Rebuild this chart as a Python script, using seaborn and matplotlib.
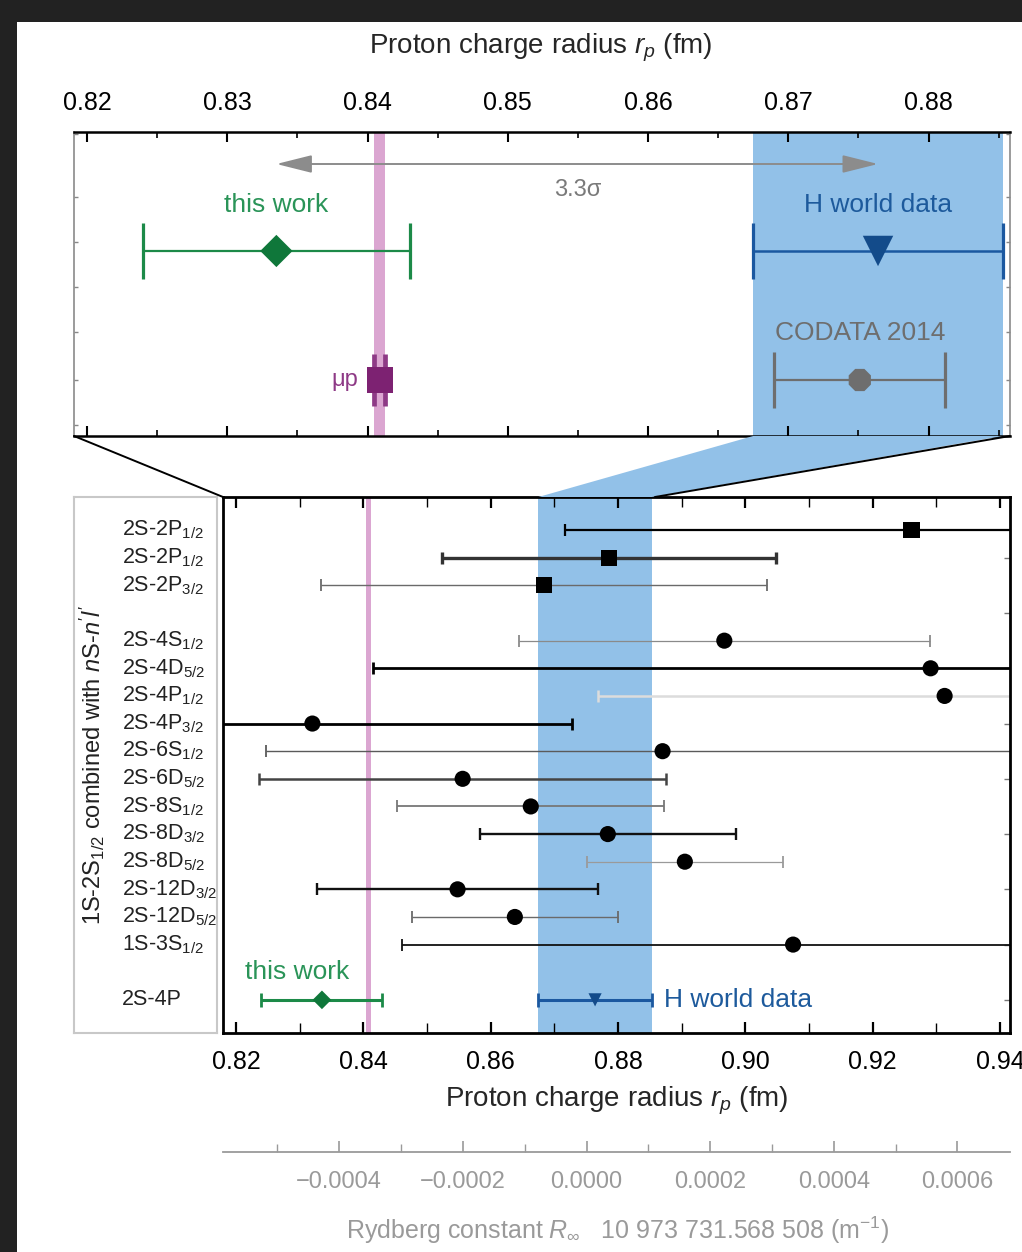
import numpy as np
import pandas as pd
import matplotlib
matplotlib.use("Agg")
import matplotlib.pyplot as plt
import seaborn as sns
from matplotlib.patches import Rectangle, Polygon, ConnectionPatch
from matplotlib.ticker import MultipleLocator, FixedLocator, FuncFormatter

# ---------------- data ----------------
row_labels = ["2S-2P$_{1/2}$", "2S-2P$_{1/2}$", "2S-2P$_{3/2}$",
              "2S-4S$_{1/2}$", "2S-4D$_{5/2}$", "2S-4P$_{1/2}$", "2S-4P$_{3/2}$",
              "2S-6S$_{1/2}$", "2S-6D$_{5/2}$", "2S-8S$_{1/2}$", "2S-8D$_{3/2}$",
              "2S-8D$_{5/2}$", "2S-12D$_{3/2}$", "2S-12D$_{5/2}$", "1S-3S$_{1/2}$"]
row_groups = [0, 0, 0, 1, 1, 1, 1, 1, 1, 1, 1, 1, 1, 1, 1]
row_values = [0.9261, 0.8786, 0.8684, 0.8967, 0.9291, 0.9313, 0.8320,
              0.8870, 0.8556, 0.8663, 0.8784, 0.8905, 0.8548, 0.8638, 0.9075]
row_errors = [0.0545, 0.0262, 0.0350, 0.0323, 0.0876, 0.0544, 0.0408,
              0.0623, 0.0320, 0.0210, 0.0201, 0.0154, 0.0220, 0.0162, 0.0614]
row_markers = ["s", "s", "s", "o", "o", "o", "o", "o", "o", "o", "o", "o", "o", "o", "o"]

this_work_label = "2S-4P"
this_work, this_work_err = 0.8335, 0.0095
h_world, h_world_err = 0.8764, 0.0089
codata, codata_err = 0.8751, 0.0061
muonic, muonic_err = 0.84087, 0.00039
sigma_text = "3.3\u03c3"

top_ticks = [0.82, 0.83, 0.84, 0.85, 0.86, 0.87, 0.88]
bot_ticks = [0.82, 0.84, 0.86, 0.88, 0.90, 0.92, 0.94]
ryd_ticks = [-0.0004, -0.0002, 0.0000, 0.0002, 0.0004, 0.0006]

# ---------------- styles ----------------
row_colors = ["#000000", "#333333", "#6a6a6a", "#8a8a8a", "#000000", "#dcdcdc", "#000000",
              "#5a5a5a", "#444444", "#777777", "#111111", "#9a9a9a", "#111111", "#6a6a6a", "#111111"]
row_lws = [1.6, 2.4, 1.0, 0.9, 2.0, 1.8, 2.0, 1.0, 1.8, 1.3, 1.7, 0.9, 1.7, 1.0, 1.3]

GREEN_L, GREEN_M, GREEN_T = "#1c8a48", "#0f773a", "#2a9458"
BLUE_L, BLUE_M, BLUE_T = "#1b58a0", "#134b8a", "#1d5a9c"
GREY_C = "#6e6e6e"
PURPLE = "#7d2272"
BAND_BLUE = "#92c1e8"
PINK = "#dba6d1"

sns.set_theme(style="ticks")
plt.rcParams["font.family"] = ["Liberation Sans", "DejaVu Sans"]
plt.rcParams["mathtext.fontset"] = "custom"
plt.rcParams["mathtext.rm"] = "Liberation Sans"
plt.rcParams["mathtext.it"] = "Liberation Sans:italic"
plt.rcParams["mathtext.bf"] = "Liberation Sans:bold"

W, H = 1022, 1252
def fx(px): return px / W
def fy(py): return 1 - py / H

fig = plt.figure(figsize=(W / 100, H / 100), dpi=100)
fig.patch.set_facecolor("#222222")
fig.patches.append(Rectangle((fx(17), 0), 1 - fx(17), fy(22), transform=fig.transFigure,
                             facecolor="white", edgecolor="none", zorder=-10))

ax_top = fig.add_axes([fx(74), fy(436), fx(1010) - fx(74), fy(132) - fy(436)])
ax_bot = fig.add_axes([fx(223), fy(1033), fx(1010) - fx(223), fy(497) - fy(1033)])
ax_lab = fig.add_axes([fx(74), fy(1033), fx(217) - fx(74), fy(497) - fy(1033)])
ax_ryd = fig.add_axes([fx(223), fy(1152), fx(1010) - fx(223), 0.0004])

TOP_XLIM = (0.81907, 0.88581)
BOT_XLIM = (0.81796, 0.94157)

# ---------------- top panel ----------------
ax = ax_top
ax.set_xlim(*TOP_XLIM)
ax.set_ylim(1.434, -0.922)
ax.axvspan(h_world - h_world_err, h_world + h_world_err, color=BAND_BLUE, lw=0, zorder=0)
ax.axvspan(muonic - muonic_err, muonic + muonic_err, color=PINK, lw=0, zorder=0.5)

top_df = pd.DataFrame({
    "name": ["this work", "H world data", "mu p", "CODATA 2014"],
    "r": [this_work, h_world, muonic, codata],
    "err": [this_work_err, h_world_err, muonic_err, codata_err],
    "y": [0, 0, 1, 1],
})
top_line = {"this work": GREEN_L, "H world data": BLUE_L, "mu p": "#8e3a86", "CODATA 2014": GREY_C}
top_mark = {"this work": GREEN_M, "H world data": BLUE_M, "mu p": PURPLE, "CODATA 2014": GREY_C}
top_shape = {"this work": "D", "H world data": "v", "mu p": "s", "CODATA 2014": "8"}
top_size = {"this work": 270, "H world data": 480, "mu p": 360, "CODATA 2014": 300}
top_lw = {"this work": 1.6, "H world data": 1.8, "mu p": 3.0, "CODATA 2014": 1.6}
for _, r in top_df.iterrows():
    ax.errorbar(r["r"], r["y"], xerr=r["err"], fmt="none", ecolor=top_line[r["name"]],
                elinewidth=top_lw[r["name"]], capsize=20 if r["name"] != "mu p" else 19,
                capthick=2.3 if r["name"] != "mu p" else 3.4, zorder=2)
sns.scatterplot(data=top_df, x="r", y="y", hue="name", style="name", size="name",
                palette=top_mark, markers=top_shape, sizes=top_size, legend=False,
                linewidth=0, ax=ax, zorder=3)
ax.set_xlabel("")
ax.set_ylabel("")

ax.annotate("", xy=(this_work, -0.674), xytext=(h_world, -0.674),
            arrowprops=dict(arrowstyle="<|-|>,head_length=1.0,head_width=0.25", color="#8c8c8c",
                            lw=1.4, mutation_scale=22, shrinkA=0, shrinkB=0), zorder=2)
ax.text(0.855, -0.473, sigma_text, color="#7a7a7a", fontsize=17, ha="center", va="center")
ax.text(this_work, -0.357, "this work", color=GREEN_T, fontsize=19, ha="center", va="center")
ax.text(h_world, -0.357, "H world data", color=BLUE_T, fontsize=19, ha="center", va="center")
ax.text(codata, 0.636, "CODATA 2014", color=GREY_C, fontsize=19, ha="center", va="center")
ax.text(0.8393, 1.0, "\u03bcp", color="#8e3a86", fontsize=17, ha="right", va="center")

ax.xaxis.set_major_locator(FixedLocator(top_ticks))
ax.xaxis.set_minor_locator(MultipleLocator(0.005))
ax.xaxis.set_major_formatter(FuncFormatter(lambda v, p: f"{v:.2f}"))
ax.tick_params(axis="x", which="both", top=True, bottom=True, labeltop=True, labelbottom=False,
               direction="in", labelsize=18, pad=12, colors="black")
ax.tick_params(axis="x", which="major", length=7, width=1.5)
ax.tick_params(axis="x", which="minor", length=4, width=1.2)
ax.yaxis.set_major_locator(FixedLocator([]))
ax.yaxis.set_minor_locator(FixedLocator([-0.91, -0.42, -0.07, 0.28, 0.63, 1.0, 1.35]))
ax.tick_params(axis="y", which="minor", left=True, right=True, direction="in", length=3,
               width=1, color="#888888")
for s in ["top", "bottom"]:
    ax.spines[s].set_color("black"); ax.spines[s].set_linewidth(1.8)
for s in ["left", "right"]:
    ax.spines[s].set_color("#8a8a8a"); ax.spines[s].set_linewidth(1.2)
fig.text(fx(541), fy(48), "Proton charge radius $r_p$ (fm)", fontsize=20, ha="center", va="center")

# ---------------- bottom panel ----------------
ax = ax_bot
ypos = []
cur = 0
prev = row_groups[0]
for g in row_groups:
    if g != prev:
        cur += 1
        prev = g
    ypos.append(cur)
    cur += 1
this_row = ypos[-1] + 2

ax.set_xlim(*BOT_XLIM)
ax.set_ylim(this_row + 1.2, -1.2)
ax.axvspan(h_world - h_world_err, h_world + h_world_err, color=BAND_BLUE, lw=0, zorder=0)
ax.axvspan(muonic - muonic_err, muonic + muonic_err, color=PINK, lw=0, zorder=0.5)

bot_df = pd.DataFrame({"r": row_values, "err": row_errors, "y": ypos, "m": row_markers})
for i, r in bot_df.iterrows():
    ax.errorbar(r["r"], r["y"], xerr=r["err"], fmt="none", ecolor=row_colors[i],
                elinewidth=row_lws[i], capsize=4, capthick=max(row_lws[i], 1.3), zorder=2)
sns.scatterplot(data=bot_df, x="r", y="y", style="m", markers={"s": "s", "o": "o"},
                color="black", s=135, linewidth=0, legend=False, ax=ax, zorder=3)

ax.errorbar(this_work, this_row, xerr=this_work_err, fmt="none", ecolor=GREEN_L,
            elinewidth=2.2, capsize=5, capthick=2, zorder=2)
ax.errorbar(h_world, this_row, xerr=h_world_err, fmt="none", ecolor=BLUE_L,
            elinewidth=2.2, capsize=5, capthick=2, zorder=2)
low_df = pd.DataFrame({"name": ["this work", "H world data"], "r": [this_work, h_world],
                       "y": [this_row, this_row]})
sns.scatterplot(data=low_df, x="r", y="y", hue="name", style="name",
                palette={"this work": GREEN_M, "H world data": BLUE_M},
                markers={"this work": "D", "H world data": "v"}, s=90, linewidth=0,
                legend=False, ax=ax, zorder=3)
ax.text(0.8214, this_row - 1.0, "this work", color=GREEN_T, fontsize=19, ha="left", va="center")
ax.text(0.8872, this_row, "H world data", color=BLUE_T, fontsize=19, ha="left", va="center")
ax.set_xlabel("")
ax.set_ylabel("")

ax.xaxis.set_major_locator(FixedLocator(bot_ticks))
ax.xaxis.set_minor_locator(MultipleLocator(0.01))
ax.xaxis.set_major_formatter(FuncFormatter(lambda v, p: f"{v:.2f}"))
ax.tick_params(axis="x", which="both", top=True, bottom=True, direction="in",
               labelsize=18, pad=12, colors="black")
ax.tick_params(axis="x", which="major", length=8, width=1.6)
ax.tick_params(axis="x", which="minor", length=7, width=1.0)
ax.yaxis.set_major_locator(FixedLocator([]))
ax.yaxis.set_minor_locator(FixedLocator(list(range(1, this_row + 1, 2))))
ax.tick_params(axis="y", which="minor", left=False, right=True, direction="in", length=4,
               width=1, color="#777777")
for s in ax.spines.values():
    s.set_color("black"); s.set_linewidth(2.0)
fig.text(fx(617), fy(1101), "Proton charge radius $r_p$ (fm)", fontsize=20, ha="center", va="center")

# ---------------- label box ----------------
ax = ax_lab
ax.set_xlim(0, 1)
ax.set_ylim(this_row + 1.2, -1.2)
ax.set_xticks([]); ax.set_yticks([])
ax.set_facecolor("white")
for s in ax.spines.values():
    s.set_color("#c8c8c8"); s.set_linewidth(1.5)
for lab, y in zip(row_labels, ypos):
    ax.text(0.336, y, lab, fontsize=15.5, ha="left", va="center", color="#222222")
ax.text(0.336, this_row, this_work_label, fontsize=15.5, ha="left", va="center", color="#222222")
ax.text(0.13, 8.5, "1S-2S$_{1/2}$ combined with $n$S-$n'l'$", fontsize=17, rotation=90,
        ha="center", va="center", color="#222222")

# ---------------- Rydberg axis ----------------
ax = ax_ryd
ax.set_facecolor("none")
ax.set_xlim(-0.000588, 0.000685)
ax.set_yticks([])
for s in ["left", "right", "top"]:
    ax.spines[s].set_visible(False)
ax.spines["bottom"].set_color("#9a9a9a")
ax.spines["bottom"].set_linewidth(1.3)
ax.xaxis.set_major_locator(FixedLocator(ryd_ticks))
ax.xaxis.set_minor_locator(MultipleLocator(0.0001))
ax.xaxis.set_major_formatter(FuncFormatter(lambda v, p: f"{v:.4f}".replace("-", "\u2212")
                                           if abs(v) > 1e-9 else "0.0000"))
ax.tick_params(axis="x", which="both", direction="in", colors="#9a9a9a", labelsize=17, pad=14)
ax.tick_params(axis="x", which="major", length=8, width=1.2)
ax.tick_params(axis="x", which="minor", length=6, width=1.0)
fig.text(fx(618), fy(1230), "Rydberg constant $R_\\infty$   10 973 731.568 508 (m$^{-1}$)",
         fontsize=18, ha="center", va="center", color="#9a9a9a")

# ---------------- zoom connectors ----------------
to_fig = fig.transFigure.inverted()
def pt(a, x, y):
    return to_fig.transform(a.get_xaxis_transform().transform((x, y)))
h_lo, h_hi = h_world - h_world_err, h_world + h_world_err
poly = [pt(ax_top, h_lo, 0), pt(ax_top, h_hi, 0), pt(ax_bot, h_hi, 1), pt(ax_bot, h_lo, 1)]
fig.patches.append(Polygon(poly, closed=True, transform=fig.transFigure, facecolor=BAND_BLUE,
                           edgecolor="none", zorder=1))
fig.add_artist(ConnectionPatch(xyA=(0, 0), coordsA=ax_top.transAxes, xyB=(0, 1),
                               coordsB=ax_bot.transAxes, color="black", lw=1.4, zorder=2))
fig.add_artist(ConnectionPatch(xyA=(1, 0), coordsA=ax_top.transAxes, xyB=(TOP_XLIM[1], 1),
                               coordsB=ax_bot.get_xaxis_transform(), color="black", lw=1.4, zorder=2))

fig.savefig("out.png", dpi=100)
